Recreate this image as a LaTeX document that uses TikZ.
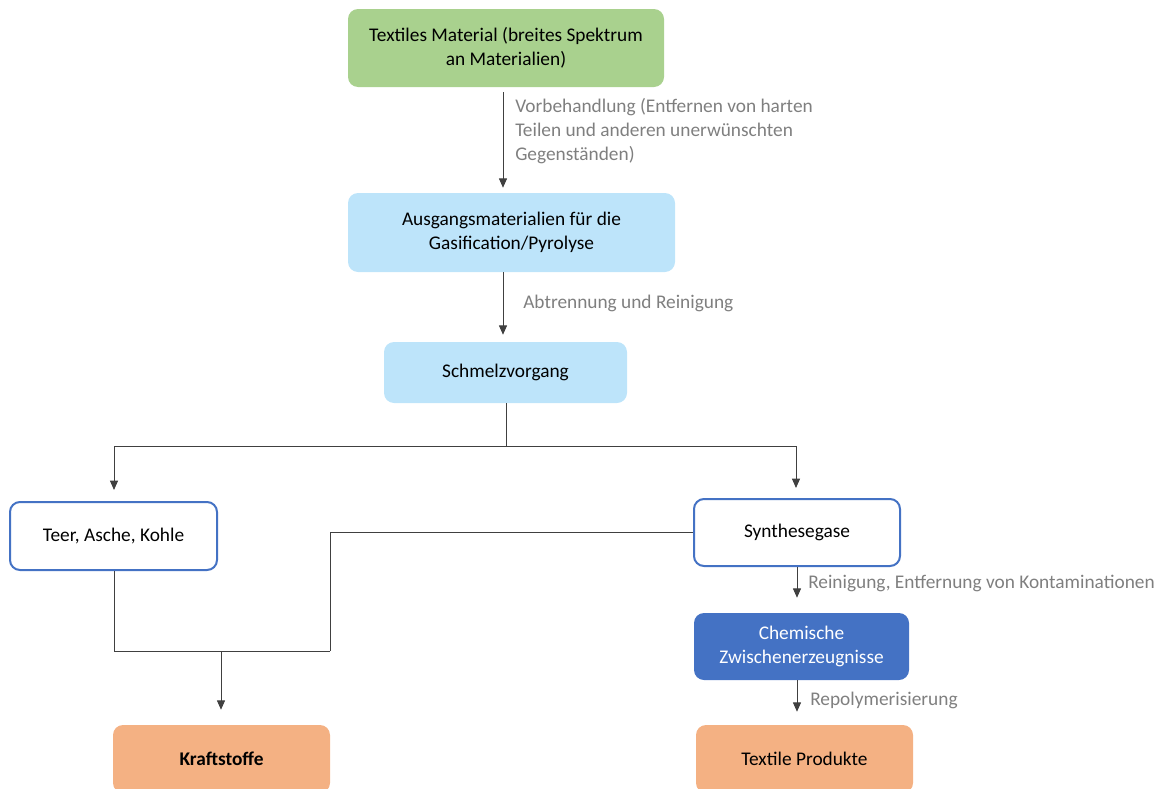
\documentclass[tikz,border=0pt]{standalone}
\usepackage{fontspec}
\setmainfont{Carlito}
\usetikzlibrary{arrows.meta}
\definecolor{cgreen}{HTML}{A9D18E}
\definecolor{clblue}{HTML}{BDE4FA}
\definecolor{cdblue}{HTML}{4472C4}
\definecolor{corange}{HTML}{F4B183}
\definecolor{cgray}{HTML}{7F7F7F}
\definecolor{cline}{HTML}{404040}
\def\u{0.75pt}
\tikzset{
  box/.style={rounded corners=7.5pt, align=center, inner sep=0pt, font=\fontsize{14.5pt}{18pt}\selectfont, text=black},
  lbl/.style={anchor=west, align=left, inner sep=0pt, text=cgray, font=\fontsize{14.5pt}{18pt}\selectfont},
  conn/.style={draw=cline, line width=0.75pt},
  arr/.style={conn, -{Triangle[width=6pt,length=7pt]}},
}
\begin{document}
\begin{tikzpicture}[x=0.75pt,y=-0.75pt]
\useasboundingbox (0,0) rectangle (1165,789);
\node[box, fill=cgreen, minimum width={316*\u}, minimum height={78*\u}] (mat) at (506,48) {Textiles Material (breites Spektrum\\an Materialien)};
\node[box, fill=clblue, minimum width={327*\u}, minimum height={79*\u}] (aus) at (511.5,232.5) {Ausgangsmaterialien für die\\Gasification/Pyrolyse};
\node[box, fill=clblue, minimum width={243*\u}, minimum height={61*\u}] (sch) at (505.5,372.5) {Schmelzvorgang};
\node[box, draw=cdblue, line width=1.5pt, fill=white, minimum width={207*\u}, minimum height={68*\u}] (teer) at (113.5,536) {Teer, Asche, Kohle};
\node[box, draw=cdblue, line width=1.5pt, fill=white, minimum width={206*\u}, minimum height={67*\u}] (syn) at (797,532.5) {Synthesegase};
\node[box, fill=cdblue, text=white, minimum width={215*\u}, minimum height={67*\u}] (chem) at (801.5,646.5) {Chemische\\Zwischenerzeugnisse};
\node[box, fill=corange, minimum width={217*\u}, minimum height={68*\u}] (kraft) at (221.5,759) {\bfseries Kraftstoffe};
\node[box, fill=corange, minimum width={217*\u}, minimum height={68*\u}] (tex) at (804.5,759) {Textile Produkte};

\node[lbl] (l1) at (515,131) {Vorbehandlung (Entfernen von harten\\Teilen und anderen unerwünschten\\Gegenständen)};
\node[lbl] (l2) at (523,303) {Abtrennung und Reinigung};
\node[lbl] (l3) at (808,583) {Reinigung, Entfernung von Kontaminationen};
\node[lbl] (l4) at (810,700) {Repolymerisierung};

\coordinate (split) at (506,446);
\coordinate (sl) at (114,446);
\coordinate (sr) at (796,446);
\coordinate (tb) at (114,651);
\coordinate (mid) at (221,651);
\coordinate (jr) at (330,651);
\coordinate (ju) at (330,532.5);

\draw[arr] (mat.south -| 503,0) ++(0,5) -- ([yshift=5*\u]aus.north -| 503,0);
\draw[arr] (aus.south -| 503,0) -- ([yshift=7*\u]sch.north -| 503,0);
\draw[conn] (sch.south -| split) -- (split);
\draw[arr] (split) -- (sl) -- ([yshift=11*\u]teer.north -| sl);
\draw[arr] (split) -- (sr) -- ([yshift=10*\u]syn.north -| sr);
\draw[conn] (teer.south -| tb) -- (tb) -- (jr);
\draw[conn] (syn.west) -- (ju) -- (jr);
\draw[arr] (mid) -- ([yshift=15*\u]kraft.north -| mid);
\draw[arr] (syn.south -| 797,0) -- ([yshift=15*\u]chem.north -| 797,0);
\draw[arr] (chem.south -| 797,0) -- ([yshift=13*\u]tex.north -| 797,0);
\end{tikzpicture}
\end{document}
